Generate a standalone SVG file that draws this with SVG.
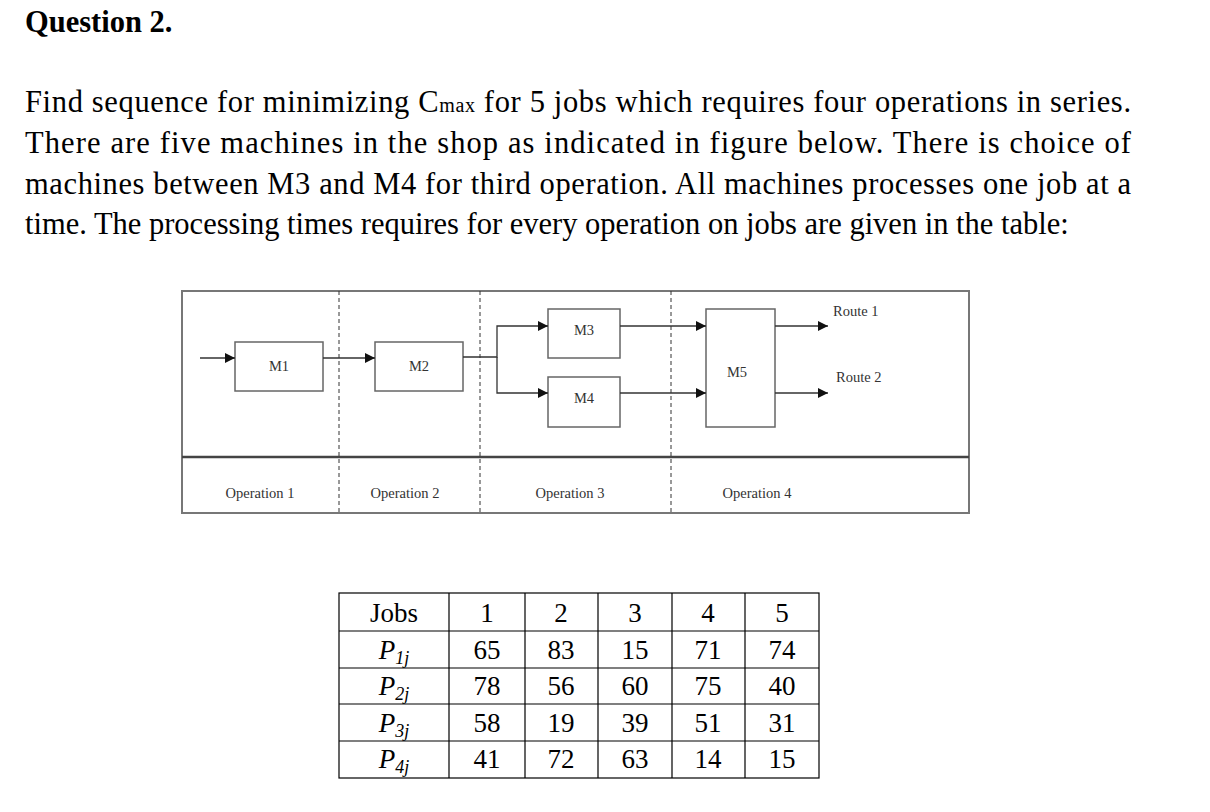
<svg xmlns="http://www.w3.org/2000/svg" width="1210" height="812" viewBox="0 0 1210 812">
<style>
.t{font-family:"Liberation Serif",serif;font-size:30.5px;fill:#000}
.d{font-family:"Liberation Serif",serif;font-size:14.5px;fill:#333}
.box{fill:#fff;stroke:#666;stroke-width:1.5}
.ln{fill:none;stroke:#333;stroke-width:1.3}
.dash{stroke:#333;stroke-width:1;stroke-dasharray:4,3}
.tb{fill:none;stroke:#000;stroke-width:1.2}
.c{font-family:"Liberation Serif",serif;font-size:27px;text-anchor:middle}
</style>
<defs><marker id="a" viewBox="0 0 10 10" refX="10" refY="5" markerWidth="10" markerHeight="10" markerUnits="userSpaceOnUse" orient="auto"><path d="M0,0L10,5L0,10z" fill="#111"/></marker></defs>
<rect width="1210" height="812" fill="#fff"/>
<text x="25" y="32" class="t" font-size="28" font-weight="bold">Question 2.</text>
<text x="25" y="112" class="t" textLength="1106" lengthAdjust="spacing">Find sequence for minimizing C<tspan font-size="20">max</tspan> for 5 jobs which requires four operations in series.</text>
<text x="25" y="153" class="t" textLength="1106" lengthAdjust="spacing">There are five machines in the shop as indicated in figure below. There is choice of</text>
<text x="25" y="194" class="t" textLength="1106" lengthAdjust="spacing">machines between M3 and M4 for third operation. All machines processes one job at a</text>
<text x="25" y="234" class="t">time. The processing times requires for every operation on jobs are given in the table:</text>
<g id="frame">
<rect x="182" y="291" width="787" height="222" fill="none" stroke="#777" stroke-width="2"/>
<line x1="182" y1="457" x2="969" y2="457" stroke="#444" stroke-width="2.5"/>
<line x1="339" y1="291" x2="339" y2="513" class="dash"/>
<line x1="480" y1="291" x2="480" y2="513" class="dash"/>
<line x1="671" y1="291" x2="671" y2="513" class="dash"/>
<text x="260" y="498" class="d" text-anchor="middle">Operation 1</text>
<text x="405" y="498" class="d" text-anchor="middle">Operation 2</text>
<text x="570" y="498" class="d" text-anchor="middle">Operation 3</text>
<text x="757" y="498" class="d" text-anchor="middle">Operation 4</text>
</g>
<g id="M1"><rect x="235" y="342" width="88" height="49" class="box"/><text x="279" y="371" class="d" text-anchor="middle">M1</text></g>
<g id="M2"><rect x="375" y="342" width="88" height="49" class="box"/><text x="419" y="371" class="d" text-anchor="middle">M2</text></g>
<g id="M3"><rect x="548" y="309" width="72" height="49" class="box"/><text x="584" y="335" class="d" text-anchor="middle">M3</text></g>
<g id="M4"><rect x="548" y="377" width="72" height="50" class="box"/><text x="584" y="403" class="d" text-anchor="middle">M4</text></g>
<g id="M5"><rect x="706" y="309" width="69" height="118" class="box"/><text x="737" y="377" class="d" text-anchor="middle">M5</text></g>
<g id="routes"><text x="833" y="316" class="d">Route 1</text><text x="836" y="382" class="d">Route 2</text></g>
<g id="connectors">
<path d="M200,358H235" class="ln" marker-end="url(#a)"/>
<path d="M323,358H375" class="ln" marker-end="url(#a)"/>
<path d="M463,357H497V326H548" class="ln" marker-end="url(#a)"/>
<path d="M497,357V393H548" class="ln" marker-end="url(#a)"/>
<path d="M620,326H706" class="ln" marker-end="url(#a)"/>
<path d="M620,393H706" class="ln" marker-end="url(#a)"/>
<path d="M775,326H828" class="ln" marker-end="url(#a)"/>
<path d="M775,393H828" class="ln" marker-end="url(#a)"/>
</g>
<g id="table">
<rect x="339" y="593" width="480" height="185" class="tb"/>
<path d="M449,593V778M525,593V778M598,593V778M672,593V778M745,593V778M339,631H819M339,668H819M339,704H819M339,741H819" class="tb"/>
<g class="c">
<text x="394" y="622">Jobs</text><text x="487" y="622">1</text><text x="561" y="622">2</text><text x="635" y="622">3</text><text x="708" y="622">4</text><text x="782" y="622">5</text>
<text x="394" y="659" font-style="italic">P<tspan font-size="18" dy="5">1j</tspan></text><text x="487" y="659">65</text><text x="561" y="659">83</text><text x="635" y="659">15</text><text x="708" y="659">71</text><text x="782" y="659">74</text>
<text x="394" y="695" font-style="italic">P<tspan font-size="18" dy="5">2j</tspan></text><text x="487" y="695">78</text><text x="561" y="695">56</text><text x="635" y="695">60</text><text x="708" y="695">75</text><text x="782" y="695">40</text>
<text x="394" y="732" font-style="italic">P<tspan font-size="18" dy="5">3j</tspan></text><text x="487" y="732">58</text><text x="561" y="732">19</text><text x="635" y="732">39</text><text x="708" y="732">51</text><text x="782" y="732">31</text>
<text x="394" y="768" font-style="italic">P<tspan font-size="18" dy="5">4j</tspan></text><text x="487" y="768">41</text><text x="561" y="768">72</text><text x="635" y="768">63</text><text x="708" y="768">14</text><text x="782" y="768">15</text>
</g>
</g>
</svg>
